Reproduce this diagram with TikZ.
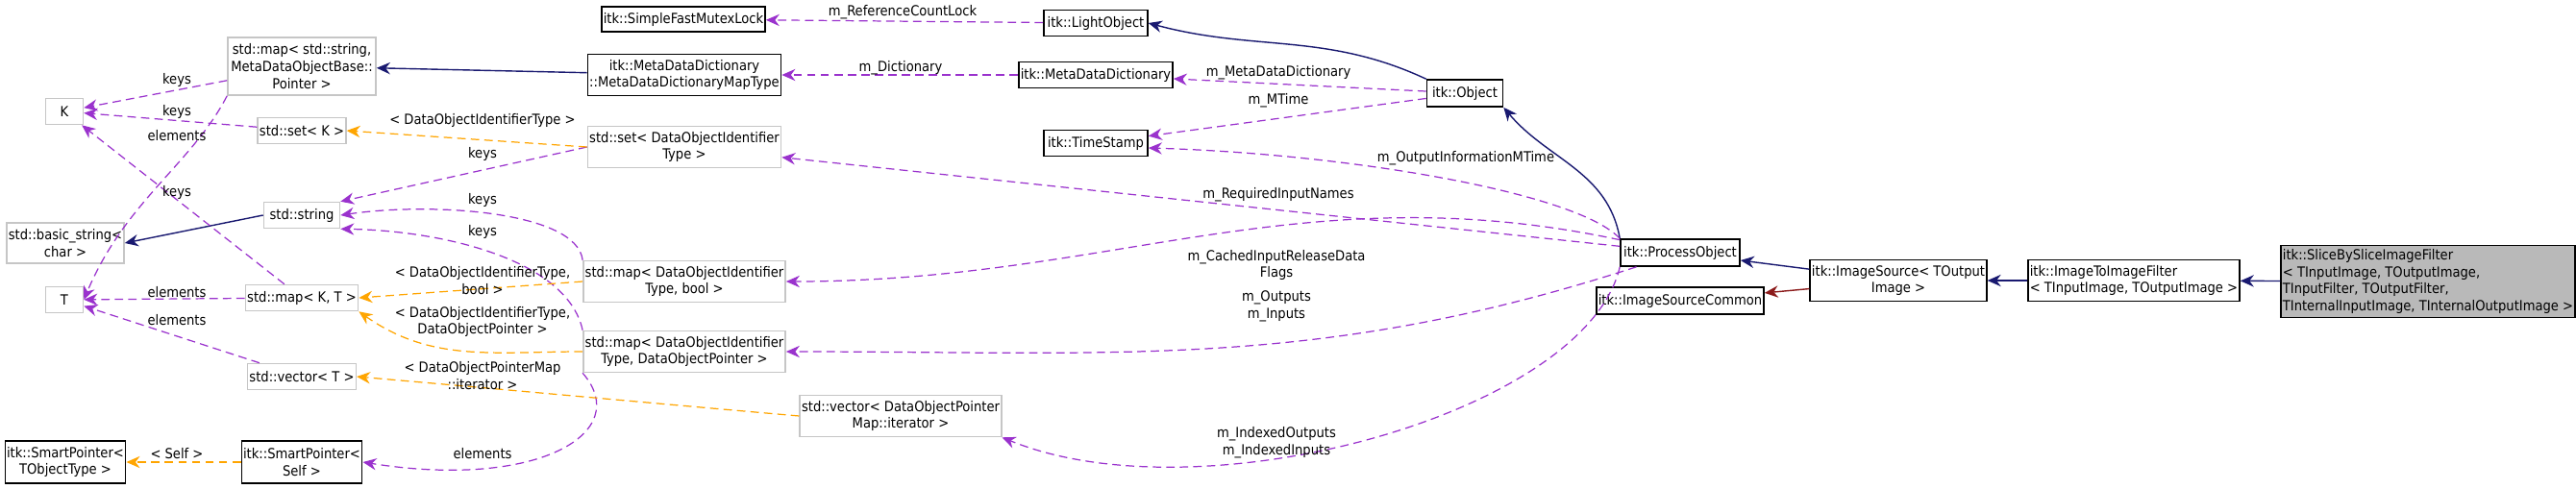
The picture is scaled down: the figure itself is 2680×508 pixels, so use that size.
\documentclass[tikz,border=0pt]{standalone}
\usepackage{fontspec}
\setmainfont{DejaVu Sans Condensed}
\usetikzlibrary{arrows.meta}
\definecolor{usecol}{RGB}{154,50,205}
\definecolor{tplcol}{RGB}{255,165,0}
\definecolor{inhcol}{RGB}{25,25,112}
\definecolor{prvcol}{RGB}{139,26,26}
\tikzset{
  cls/.style={draw=black, line width=0.9pt, fill=white, align=center, inner sep=1pt, font=\fontsize{8.3}{10.2}\selectfont},
  ext/.style={cls, draw=gray!45},
  cur/.style={cls, fill=gray!55, align=left},
  use/.style={draw=usecol, dashed, dash pattern=on 5pt off 3pt, line width=0.7pt, -{Stealth[length=8pt,width=7pt]}},
  tpl/.style={use, draw=tplcol},
  inh/.style={draw=inhcol, line width=0.8pt, -{Stealth[length=8pt,width=7pt]}},
  prv/.style={inh, draw=prvcol},
  lbl/.style={align=center, inner sep=0pt, font=\fontsize{8.3}{10.2}\selectfont}
}
\begin{document}
\begin{tikzpicture}[x=0.02cm, y=-0.02cm]
\useasboundingbox (0,0) rectangle (2680,508);
% classes, left column
\node[ext, minimum width=39*0.02cm, minimum height=27*0.02cm] (k) at (67,116) {K};
\node[ext, minimum width=122*0.02cm, minimum height=42*0.02cm] (basic) at (68,253) {std::basic\_string\textless\\char \textgreater};
\node[ext, minimum width=39*0.02cm, minimum height=27*0.02cm] (t) at (67,312) {T};
\node[cls, minimum width=125*0.02cm, minimum height=44*0.02cm] (sptype) at (68,481) {itk::SmartPointer\textless\\TObjectType \textgreater};
% second column
\node[ext, minimum width=154*0.02cm, minimum height=60*0.02cm] (mapstr) at (314,69) {std::map\textless{} std::string,\\MetaDataObjectBase::\\Pointer \textgreater};
\node[ext, minimum width=91*0.02cm, minimum height=27*0.02cm] (setk) at (314,136) {std::set\textless{} K \textgreater};
\node[ext, minimum width=79*0.02cm, minimum height=27*0.02cm] (str) at (314,224) {std::string};
\node[ext, minimum width=113*0.02cm, minimum height=27*0.02cm] (mapkt) at (314,310) {std::map\textless{} K, T \textgreater};
\node[ext, minimum width=109*0.02cm, minimum height=27*0.02cm] (vect) at (314,392) {std::vector\textless{} T \textgreater};
\node[cls, minimum width=124*0.02cm, minimum height=44*0.02cm] (spself) at (314,481) {itk::SmartPointer\textless\\Self \textgreater};
% third column
\node[cls, minimum width=167*0.02cm, minimum height=26*0.02cm] (mutex) at (711,20) {itk::SimpleFastMutexLock};
\node[cls, minimum width=198*0.02cm, minimum height=43*0.02cm] (maptype) at (712,78) {itk::MetaDataDictionary\\::MetaDataDictionaryMapType};
\node[ext, minimum width=193*0.02cm, minimum height=43*0.02cm] (setdoit) at (712,153) {std::set\textless{} DataObjectIdentifier\\Type \textgreater};
\node[ext, minimum width=202*0.02cm, minimum height=43*0.02cm] (mapbool) at (712,293) {std::map\textless{} DataObjectIdentifier\\Type, bool \textgreater};
\node[ext, minimum width=202*0.02cm, minimum height=43*0.02cm] (mapdop) at (712,366) {std::map\textless{} DataObjectIdentifier\\Type, DataObjectPointer \textgreater};
\node[ext, minimum width=198*0.02cm, minimum height=43*0.02cm] (veciter) at (937,433) {std::vector\textless{} DataObjectPointer\\Map::iterator \textgreater};
% fourth column
\node[cls, minimum width=108*0.02cm, minimum height=27*0.02cm] (light) at (1140,24) {itk::LightObject};
\node[cls, minimum width=157*0.02cm, minimum height=27*0.02cm] (mdd) at (1140,78) {itk::MetaDataDictionary};
\node[cls, minimum width=108*0.02cm, minimum height=27*0.02cm] (stamp) at (1140,149) {itk::TimeStamp};
\node[cls, minimum width=79*0.02cm, minimum height=28*0.02cm] (object) at (1524,97) {itk::Object};
% right part
\node[cls, minimum width=124*0.02cm, minimum height=28*0.02cm] (proc) at (1748,263) {itk::ProcessObject};
\node[cls, minimum width=174*0.02cm, minimum height=28*0.02cm] (common) at (1748,313) {itk::ImageSourceCommon};
\node[cls, minimum width=179*0.02cm, minimum height=43*0.02cm] (source) at (1975,292) {itk::ImageSource\textless{} TOutput\\Image \textgreater};
\node[cls, minimum width=211*0.02cm, minimum height=43*0.02cm, align=left] (i2i) at (2220,292) {itk::ImageToImageFilter\\\textless{} TInputImage, TOutputImage \textgreater};
\node[cur, minimum width=299*0.02cm, minimum height=75*0.02cm] (slice) at (2526,293) {itk::SliceBySliceImageFilter\\\textless{} TInputImage, TOutputImage,\\ TInputFilter, TOutputFilter,\\ TInternalInputImage, TInternalOutputImage \textgreater};

% inheritance
\draw[inh] (maptype) -- (mapstr);
\draw[inh] (str.west) -- (basic.east);
\draw[inh] (object.north west) to[out=155,in=-15] (light.east);
\draw[inh] (proc.north west) to[out=100,in=-50] (object.south east);
\draw[inh] (source) -- (proc);
\draw[prv] (source) -- (common);
\draw[inh] (i2i) -- (source);
\draw[inh] (slice) -- (i2i);

% members
\draw[use] (light) -- (mutex);
\draw[use] (mdd) -- (maptype);
\draw[use] (object) -- (mdd);
\draw[use] (object) -- (stamp);
\draw[use] (proc.north west) .. controls (1640,200) and (1400,160) .. ([yshift=-5*0.02cm]stamp.east);
\draw[use] (proc) -- (setdoit);
\draw[use] (proc) to[out=168,in=0] (mapbool.east);
\draw[use] (proc) to[out=198,in=0] (mapdop.east);
\draw[use] (proc.south west) .. controls (1650,430) and (1250,540) .. (veciter.south east);
\draw[use] (mapstr) -- (k);
\draw[use] (setk) -- (k);
\draw[use] (mapkt) -- (k);
\draw[use] (mapstr.south west) .. controls (200,170) and (130,210) .. (t.east);
\draw[use] (mapkt) -- (t);
\draw[use] (vect) -- (t);
\draw[use] (setdoit.west) -- (str.north east);
\draw[use] (mapbool.north west) .. controls (600,220) and (450,210) .. (str.east);
\draw[use] (mapdop.north west) .. controls (590,270) and (460,240) .. (str.south east);
\draw[use] (mapdop.south west) .. controls (660,450) and (560,510) .. (spself.east);

% template arguments
\draw[tpl] (setdoit.west) -- (setk.east);
\draw[tpl] (mapbool.west) -- (mapkt.east);
\draw[tpl] (mapdop.west) to[out=180,in=-35] (mapkt.south east);
\draw[tpl] (veciter.west) to[out=175,in=-5] (vect.east);
\draw[tpl] (spself) -- (sptype);

% labels
\node[lbl] (l1) at (939,13) {m\_ReferenceCountLock};
\node[lbl] (l2) at (937,71) {m\_Dictionary};
\node[lbl] (l3) at (1330,76) {m\_MetaDataDictionary};
\node[lbl] (l4) at (1330,105) {m\_MTime};
\node[lbl] (l5) at (1525,165) {m\_OutputInformationMTime};
\node[lbl] (l6) at (1330,203) {m\_RequiredInputNames};
\node[lbl] (l7) at (1328,276) {m\_CachedInputReleaseData\\Flags};
\node[lbl] (l8) at (1328,319) {m\_Outputs\\m\_Inputs};
\node[lbl] (l9) at (1328,461) {m\_IndexedOutputs\\m\_IndexedInputs};
\node[lbl] (l10) at (184,83) {keys};
\node[lbl] (l11) at (184,116) {keys};
\node[lbl] (l12) at (184,200) {keys};
\node[lbl] (l13) at (184,141) {elements};
\node[lbl] (l14) at (184,304) {elements};
\node[lbl] (l15) at (184,333) {elements};
\node[lbl] (l16) at (502,160) {keys};
\node[lbl] (l17) at (502,208) {keys};
\node[lbl] (l18) at (502,241) {keys};
\node[lbl] (l19) at (502,472) {elements};
\node[lbl] (l20) at (502,125) {\textless{} DataObjectIdentifierType \textgreater};
\node[lbl] (l21) at (502,292) {\textless{} DataObjectIdentifierType,\\bool \textgreater};
\node[lbl] (l22) at (502,335) {\textless{} DataObjectIdentifierType,\\DataObjectPointer \textgreater};
\node[lbl] (l23) at (502,391) {\textless{} DataObjectPointerMap\\::iterator \textgreater};
\node[lbl] (l24) at (184,472) {\textless{} Self \textgreater};
\end{tikzpicture}
\end{document}
